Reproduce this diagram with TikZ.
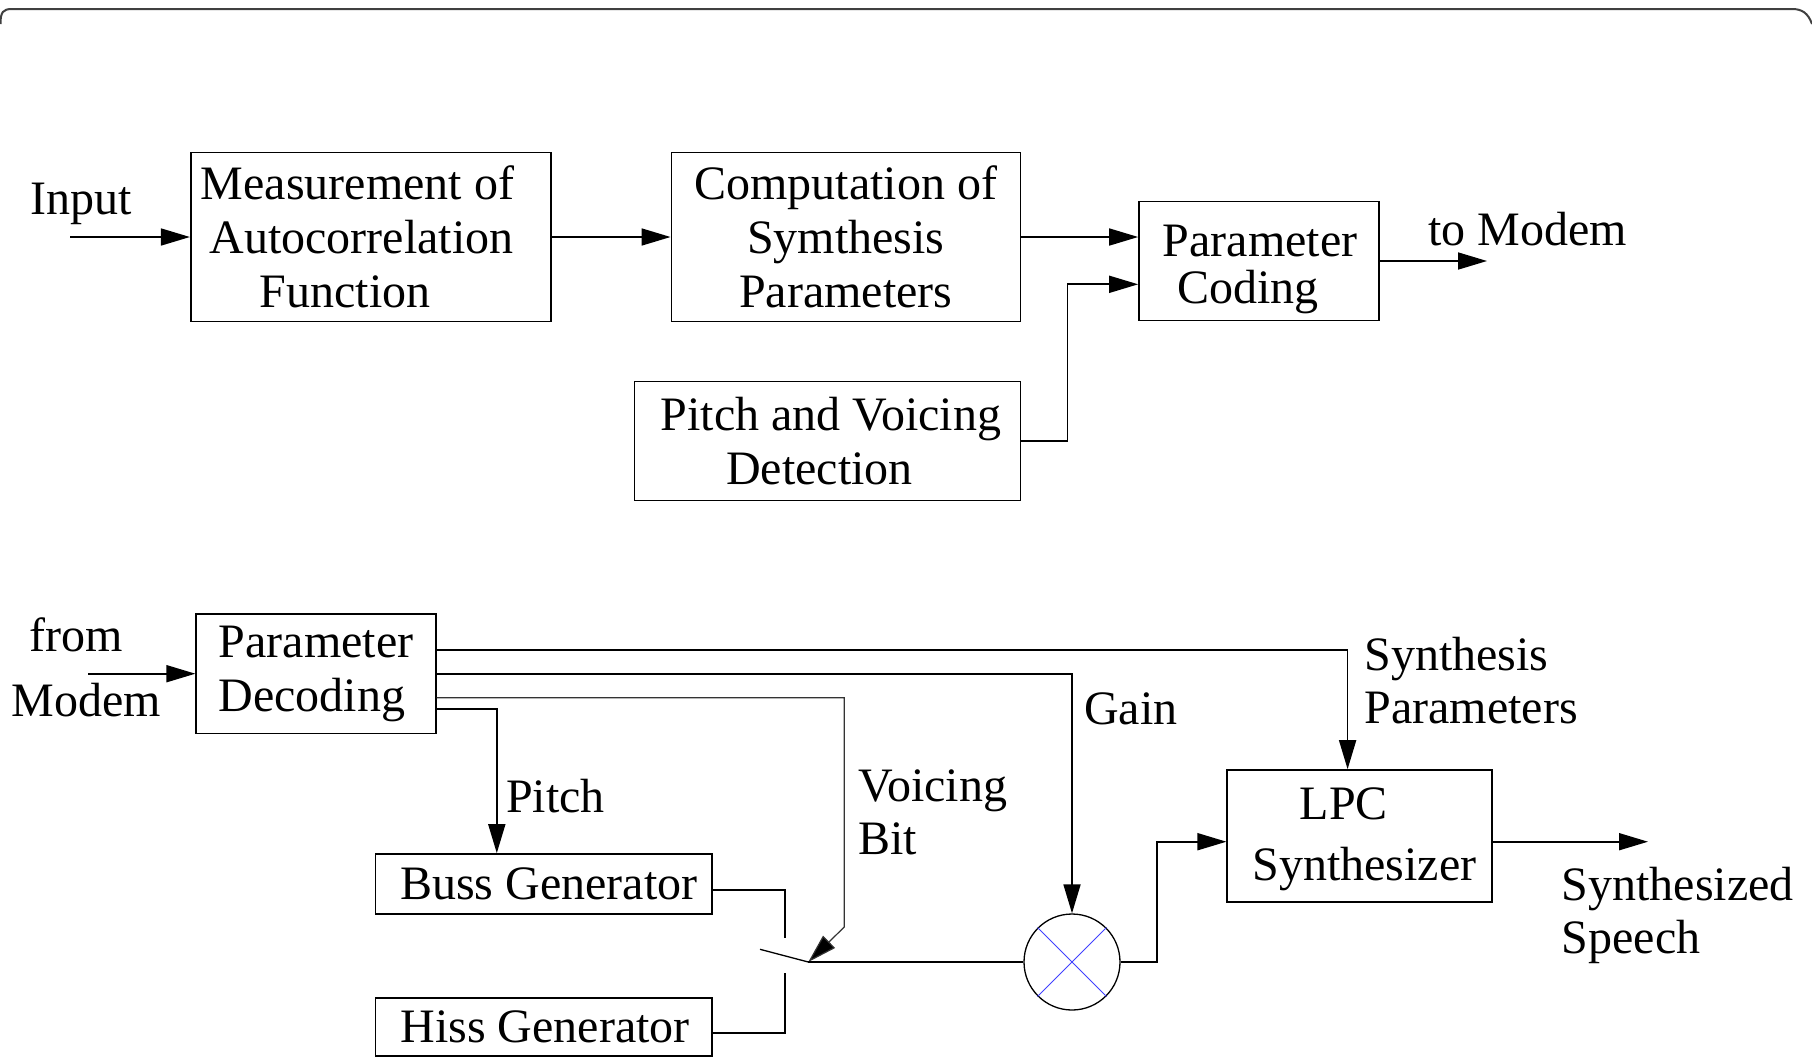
\documentclass[tikz,border=0pt]{standalone}
\usepackage{fontspec}
\setmainfont{Liberation Serif}
\usetikzlibrary{arrows.meta,calc}
\begin{document}
\begin{tikzpicture}[x=1pt,y=-1pt]
\tikzset{
  blk/.style={draw, line width=1.7pt, inner sep=0pt, align=center,
              font=\fontsize{48}{54}\selectfont},
  lbl/.style={inner sep=0pt, font=\fontsize{48}{54}\selectfont},
  wire/.style={line width=1.7pt},
  arr/.style={wire, -{Triangle[length=29pt,width=17pt]}},
  vwire/.style={line width=1.2pt, draw=black!80, -{Triangle[length=29pt,width=17pt,fill=black]}},
  armwire/.style={line width=1.3pt},
  framec/.style={line width=2pt, draw=black!75},
  xcross/.style={line width=1pt, draw=blue!75},
}
\useasboundingbox (0,0) rectangle (1812,1058);

% outer frame (only its rounded top is inside the page)
\draw[framec] (0.5,24) .. controls (0.5,12) and (3,9) .. (12,9) -- (1792,9)
      .. controls (1802,9) and (1808,13) .. (1812,24);

% ---------------- analysis (transmitter) ----------------
\node[blk, minimum width=360.5pt, minimum height=169pt] (meas) at (371,237)
  {Measurement of\kern27pt\\Autocorrelation\kern19pt\\Function\kern52pt};
\node[blk, minimum width=349pt, minimum height=169pt] (comp) at (845.9,237)
  {Computation of\\Symthesis\\Parameters};
\node[blk, minimum width=240pt, minimum height=119pt] (pcod) at (1259,261)
  {\rule{0pt}{49pt}\kern2pt Parameter\\[-7pt]Coding\kern22pt};
\node[blk, minimum width=386pt, minimum height=119pt] (pvd) at (827.4,441)
  {\kern7pt Pitch and Voicing\\Detection\kern16pt};

\node[lbl, anchor=base west] (lin) at (30.6,214) {Input};
\node[lbl, anchor=base west] (lto) at (1428,245) {to Modem};

\coordinate (inS) at (70,237);
\coordinate (toE) at (1487,261);
\draw[arr] (inS) -- (meas.west);
\draw[arr] (meas.east) -- (comp.west);
\draw[arr] (comp.east) -- (comp.east -| pcod.west);
\draw[arr] (pvd.east) -- ++(46.2,0) |- ($(pcod.west)+(0,23.3)$);
\draw[arr] (pcod.east) -- (toE);

% ---------------- synthesis (receiver) ----------------
\node[blk, minimum width=239.5pt, minimum height=119.3pt] (pdec) at (316,673.7)
  {Parameter\\Decoding\kern8pt};
\node[blk, minimum width=336.4pt, minimum height=60pt] (buss) at (543.8,884)
  {\kern10pt Buss Generator};
\node[blk, minimum width=336.4pt, minimum height=58.3pt] (hiss) at (543.8,1026.9)
  {\kern3pt Hiss Generator};
\node[blk, minimum width=265pt, minimum height=131.7pt] (lpc) at (1359.8,835.9)
  {\rule{0pt}{39pt}LPC\kern32pt\\[7pt]\kern9pt Synthesizer};
\node[draw, circle, line width=1.3pt, minimum size=96pt, inner sep=0pt] (mix) at (1072,962) {};
\draw[xcross] (mix.north west) -- (mix.south east) (mix.north east) -- (mix.south west);

\node[lbl, anchor=base west] (lfrom) at (29.3,651.7) {from};
\node[lbl, anchor=base west] (lmod) at (11.7,716.7) {Modem};
\node[lbl, anchor=base west] (lpitch) at (506,812.7) {Pitch};
\node[lbl, anchor=base west] (lvoi) at (858.3,801.7) {Voicing};
\node[lbl, anchor=base west] (lbit) at (858.3,854) {Bit};
\node[lbl, anchor=base west] (lgain) at (1084,724) {Gain};
\node[lbl, anchor=base west] (lsyn) at (1364.4,670) {Synthesis};
\node[lbl, anchor=base west] (lpar) at (1364.4,723.5) {Parameters};
\node[lbl, anchor=base west] (lsz) at (1561.6,900) {Synthesized};
\node[lbl, anchor=base west] (lsp) at (1561.6,953) {Speech};

\coordinate (fromS) at (88.3,673.7);
\coordinate (vknee) at (844.3,927);
\coordinate (swp) at (808.3,962);
\coordinate (swA) at (760,949.3);
\coordinate (bussT) at (785,938.3);
\coordinate (hissT) at (785,973.3);
\coordinate (outE) at (1648,841.7);

\draw[arr] (fromS) -- (pdec.west);
\draw[arr] ($(pdec.east)+(0,-23.4)$) -| ($(lpc.north)+(-12.2,0)$);
\draw[arr] (pdec.east) -| (mix.north);
\draw[vwire] ($(pdec.east)+(0,24)$) -| (vknee) -- (swp);
\draw[arr] ($(pdec.east)+(0,35.6)$) -| ($(buss.north)+(-47,0)$);

% voicing switch
\draw[wire] ($(buss.east)+(0,6)$) -| (bussT);
\draw[wire] ($(hiss.east)+(0,6)$) -| (hissT);
\draw[armwire] (swA) -- (swp);
\draw[wire] (swp) -- (mix.west);

\draw[arr] (mix.east) -- ++(36.3,0) |- ($(lpc.west)+(0,5.8)$);
\draw[arr] ($(lpc.east)+(0,5.8)$) -- (outE);
\end{tikzpicture}
\end{document}
